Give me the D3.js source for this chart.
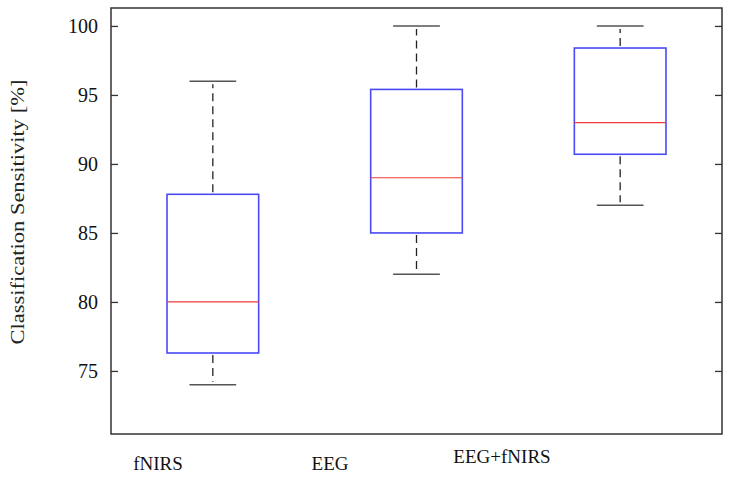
<!DOCTYPE html>
<html>
<head>
<meta charset="utf-8">
<script src="https://cdn.jsdelivr.net/npm/d3@7"></script>
<style>
body { margin: 0; background: #fff; }
text { font-family: "Liberation Serif", "Times New Roman", serif; }
</style>
</head>
<body>
<div id="chart"></div>
<script>
// data
var groups = ["fNIRS", "EEG", "EEG+fNIRS"];
var whisker_low = [74, 82, 87];
var q1 = [76.3, 85, 90.7];
var median = [80, 89, 93];
var q3 = [87.8, 95.4, 98.4];
var whisker_high = [96, 100, 100];
var y_ticks = [75, 80, 85, 90, 95, 100];

var width = 730, height = 477;
var m_left = 111, m_right = 722, m_top = 8, m_bottom = 434;

var svg = d3.select("#chart").append("svg")
	.attr("width", width)
	.attr("height", height);

var x = d3.scaleBand()
	.domain(groups)
	.range([m_left, m_right]);

var y = d3.scaleLinear()
	.domain([70.43, 101.3])
	.range([m_bottom, m_top]);

// labels sit a bit left of the boxes in the original
var xLabel = d3.scalePoint()
	.domain(groups)
	.range([158, 502]);

var boxW = x.bandwidth() * 0.45;
var capW = boxW * 0.51;

var rows = groups.map(function(g, i) {
	return {name: g, lo: whisker_low[i], q1: q1[i], med: median[i], q3: q3[i], hi: whisker_high[i]};
});

var box = svg.selectAll("g.box")
	.data(rows)
	.enter()
	.append("g")
	.attr("class", "box")
	.attr("transform", d => "translate(" + (x(d.name) + x.bandwidth() / 2) + ",0)");

// whiskers
box.append("line")
	.attr("x1", 0).attr("x2", 0)
	.attr("y1", d => y(d.q3) - 2)
	.attr("y2", d => y(d.hi) + 3)
	.style("stroke", "#222")
	.style("stroke-width", 1.3)
	.style("stroke-dasharray", "8,5");
box.append("line")
	.attr("x1", 0).attr("x2", 0)
	.attr("y1", d => y(d.q1) + 2)
	.attr("y2", d => y(d.lo) - 3)
	.style("stroke", "#222")
	.style("stroke-width", 1.3)
	.style("stroke-dasharray", "8,5");

// caps
box.append("line")
	.attr("x1", -capW / 2).attr("x2", capW / 2)
	.attr("y1", d => y(d.hi)).attr("y2", d => y(d.hi))
	.style("stroke", "#555")
	.style("stroke-width", 1.5);
box.append("line")
	.attr("x1", -capW / 2).attr("x2", capW / 2)
	.attr("y1", d => y(d.lo)).attr("y2", d => y(d.lo))
	.style("stroke", "#555")
	.style("stroke-width", 1.5);

box.append("rect")
	.attr("x", -boxW / 2)
	.attr("y", d => y(d.q3))
	.attr("width", boxW)
	.attr("height", d => y(d.q1) - y(d.q3))
	.style("fill", "none")
	.style("stroke", "#4a4af5")
	.style("stroke-width", 1.6);

box.append("line")
	.attr("x1", -boxW / 2).attr("x2", boxW / 2)
	.attr("y1", d => y(d.med)).attr("y2", d => y(d.med))
	.style("stroke", "#f03a3a")
	.style("stroke-width", 1.2);

// frame
svg.append("rect")
	.attr("x", m_left).attr("y", m_top)
	.attr("width", m_right - m_left).attr("height", m_bottom - m_top)
	.style("fill", "none")
	.style("stroke", "#333")
	.style("stroke-width", 1.5);

var yAxisL = d3.axisLeft(y).tickValues(y_ticks).tickSizeInner(-7).tickSizeOuter(0).tickPadding(13);
var gL = svg.append("g").attr("transform", "translate(" + m_left + ",0)").call(yAxisL);
gL.select(".domain").remove();
gL.selectAll("line").style("stroke", "#333").style("stroke-width", 1.3);
gL.selectAll("text").style("font-size", "20px").style("fill", "#111")
	.style("font-family", "'Liberation Serif', serif");

var yAxisR = d3.axisRight(y).tickValues(y_ticks).tickSizeInner(-7).tickSizeOuter(0).tickFormat("");
var gR = svg.append("g").attr("transform", "translate(" + m_right + ",0)").call(yAxisR);
gR.select(".domain").remove();
gR.selectAll("line").style("stroke", "#333").style("stroke-width", 1.3);

// category labels
svg.selectAll("text.cat")
	.data(groups)
	.enter()
	.append("text")
	.attr("class", "cat")
	.attr("x", d => xLabel(d))
	.attr("y", (d, i) => i == 2 ? 463 : 470)
	.attr("text-anchor", "middle")
	.style("font-size", "19px")
	.style("fill", "#111")
	.text(d => d);

svg.append("text")
	.attr("transform", "translate(24,212) rotate(-90) scale(1.25,1)")
	.attr("text-anchor", "middle")
	.style("font-size", "18px")
	.style("fill", "#222")
	.text("Classification Sensitivity [%]");
</script>
</body>
</html>
